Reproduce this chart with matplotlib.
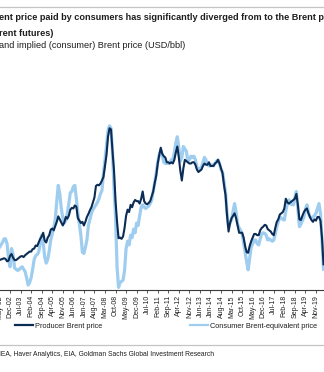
import matplotlib
matplotlib.use("Agg")
import matplotlib.pyplot as plt
from matplotlib import font_manager
from matplotlib.lines import Line2D
import numpy as np

# ---------------- data (monthly, Jan-2000 .. Apr-2020, USD/bbl) ----------------
producer_price = [
    25.5, 27.8, 27.5, 22.8, 27.4, 29.8, 28.7, 30.1, 33.0, 30.9, 32.6, 25.5,   # 2000
    25.6, 27.5, 24.5, 25.7, 28.4, 27.7, 24.5, 25.7, 25.6, 20.5, 18.9, 18.6,   # 2001
    19.4, 20.3, 23.7, 24.5, 23.5, 24.0, 24.5, 25.0, 24.5, 22.5, 23.0, 27.0,   # 2002
    28.5, 25.5, 23.5, 23.5, 24.5, 25.5, 26.5, 26.8, 26.0, 27.5, 28.5, 29.5,   # 2003
    30.5, 30.5, 32.5, 33.0, 35.5, 35.0, 38.0, 41.0, 43.0, 46.0, 39.5, 38.0,   # 2004
    42.0, 44.0, 48.5, 49.5, 48.0, 51.5, 55.0, 59.5, 57.0, 54.5, 52.0, 54.5,   # 2005
    59.0, 57.5, 60.0, 65.0, 66.5, 66.0, 68.5, 67.5, 58.0, 56.0, 54.0, 55.0,   # 2006
    52.0, 55.0, 59.0, 61.5, 64.5, 67.0, 71.0, 75.0, 84.5, 85.5, 85.0, 86.5,   # 2007
    89.0, 92.0, 101.0, 110.0, 125.0, 132.0, 131.0, 113.0, 97.0, 72.0, 55.0, 41.5,  # 2008
    42.0, 41.0, 43.0, 50.0, 60.0, 65.0, 63.0, 69.0, 67.0, 71.0, 73.0, 72.0,   # 2009
    72.0, 70.0, 74.0, 80.0, 72.0, 70.0, 69.5, 70.5, 72.0, 76.0, 80.0, 87.0,   # 2010
    93.0, 103.0, 110.0, 116.0, 111.0, 109.0, 108.0, 104.0, 104.0, 103.0, 104.0, 103.0,  # 2011
    106.0, 112.0, 117.0, 108.0, 97.0, 89.0, 99.0, 106.0, 105.0, 104.0, 103.0, 103.0,  # 2012
    104.0, 104.0, 102.0, 98.0, 96.0, 97.0, 98.0, 101.0, 103.0, 102.0, 102.0, 104.0,  # 2013
    101.0, 101.0, 101.0, 103.0, 104.0, 106.0, 103.0, 99.0, 95.0, 85.0, 77.0, 60.0,  # 2014
    47.0, 54.0, 58.0, 60.0, 62.0, 58.0, 52.0, 46.0, 46.0, 46.0, 42.0, 35.0,   # 2015
    30.0, 29.5, 35.0, 39.0, 42.0, 45.0, 45.0, 44.0, 44.0, 48.0, 50.0, 51.0,   # 2016
    52.5, 52.0, 49.0, 48.0, 47.0, 45.0, 44.0, 50.0, 55.0, 57.0, 61.0, 62.0,   # 2017
    63.0, 66.0, 74.0, 71.0, 70.0, 71.0, 72.0, 73.0, 74.0, 78.0, 69.0, 57.0,   # 2018
    56.5, 60.0, 63.0, 65.0, 66.0, 62.0, 59.0, 56.5, 55.0, 57.0, 56.0, 59.0,   # 2019
    59.0, 56.0, 42.0, 20.0,                                                   # 2020
]
consumer_price = [
    22.0, 25.0, 27.0, 24.0, 26.0, 30.0, 31.0, 32.0, 36.0, 34.0, 33.0, 26.0,   # 2000
    24.0, 26.0, 25.0, 26.0, 28.0, 29.0, 26.0, 26.0, 27.0, 23.0, 20.0, 21.0,   # 2001
    22.0, 24.0, 28.0, 32.0, 34.0, 36.0, 38.0, 41.0, 41.0, 37.0, 25.0, 18.0,   # 2002
    33.0, 28.0, 17.0, 16.0, 15.0, 15.5, 17.0, 18.0, 16.0, 14.0, 9.0, 3.0,     # 2003
    5.0, 9.0, 16.0, 24.0, 27.0, 28.0, 30.0, 37.0, 44.0, 38.0, 26.0, 21.0,     # 2004
    24.0, 31.0, 40.0, 45.0, 50.0, 57.0, 72.0, 85.0, 78.0, 66.0, 58.0, 54.0,   # 2005
    56.0, 62.0, 70.0, 79.0, 80.0, 84.0, 85.0, 74.0, 62.0, 53.0, 44.0, 30.0,   # 2006
    29.0, 34.0, 40.0, 52.0, 57.0, 62.0, 65.0, 67.0, 69.0, 71.0, 74.0, 78.0,   # 2007
    81.0, 95.0, 106.0, 118.0, 130.0, 134.0, 132.0, 112.0, 82.0, 60.0, 18.0, 1.0,  # 2008
    5.0, 6.0, 7.0, 15.0, 33.0, 39.0, 36.0, 44.0, 42.0, 49.0, 46.0, 54.0,      # 2009
    52.0, 60.0, 67.0, 69.0, 67.0, 66.0, 67.0, 68.0, 70.0, 73.0, 80.0, 87.0,   # 2010
    95.0, 104.0, 110.0, 114.0, 110.0, 104.0, 103.0, 103.0, 103.0, 104.0, 106.0, 106.0,  # 2011
    112.0, 120.0, 125.0, 116.0, 105.0, 108.0, 117.0, 115.0, 113.0, 105.0, 106.0, 109.0,  # 2012
    108.0, 109.0, 106.0, 100.0, 97.0, 99.0, 100.0, 104.0, 108.0, 106.0, 102.0, 101.0,  # 2013
    101.0, 102.0, 101.0, 103.0, 105.0, 106.0, 103.0, 98.0, 96.0, 88.0, 79.0, 62.0,  # 2014
    51.0, 54.0, 57.0, 64.0, 70.0, 63.0, 53.0, 50.0, 48.0, 45.0, 38.0, 30.0,   # 2015
    22.0, 15.5, 25.0, 34.0, 37.0, 40.0, 40.0, 37.0, 36.0, 41.0, 45.0, 46.0,   # 2016
    45.5, 44.0, 40.0, 41.0, 40.0, 39.0, 40.0, 45.0, 51.0, 55.0, 59.0, 58.0,   # 2017
    57.0, 56.5, 64.0, 70.0, 73.0, 70.0, 69.0, 69.0, 75.0, 80.0, 65.0, 51.0,   # 2018
    53.0, 56.0, 59.0, 65.0, 69.0, 63.0, 59.0, 58.0, 59.0, 60.0, 62.0, 66.0,   # 2019
    70.0, 62.0, 40.0, 16.0,                                                   # 2020
]
tick_labels = [
    "Jan-00", "Aug-00", "Mar-01", "Oct-01", "May-02", "Dec-02", "Jul-03",
    "Feb-04", "Sep-04", "Apr-05", "Nov-05", "Jun-06", "Jan-07", "Aug-07",
    "Mar-08", "Oct-08", "May-09", "Dec-09", "Jul-10", "Feb-11", "Sep-11",
    "Apr-12", "Nov-12", "Jun-13", "Jan-14", "Aug-14", "Mar-15", "Oct-15",
    "May-16", "Dec-16", "Jul-17", "Feb-18", "Sep-18", "Apr-19", "Nov-19",
]
tick_step_months = 7
series_names = ["Producer Brent price", "Consumer Brent-equivalent price"]

title_line1 = "ent price paid by consumers has significantly diverged from to the Brent price"
title_line2 = "rent futures)"
subtitle = "and implied (consumer) Brent price (USD/bbl)"
source = "IEA, Haver Analytics, EIA, Goldman Sachs Global Investment Research"

# ---------------- styling ----------------
names = {f.name for f in font_manager.fontManager.ttflist}
FONT = "Liberation Sans Narrow" if "Liberation Sans Narrow" in names else "Liberation Sans"
plt.rcParams["font.family"] = [FONT, "DejaVu Sans"]

DARK = "#0b2c55"
LIGHT = "#9fcdf0"
TXT = "#1e1e1e"

W, H = 324, 372
fig = plt.figure(figsize=(W / 100, H / 100), dpi=100)


def fx(px):
    return px / W


def fy(py):
    return 1 - py / H


# axes geometry (pixel-based, the reference is cropped on the left)
px_per_month = 1.507
x_left_px = -42.7
xmin, xmax = 0, 245
ymin, ymax = -1.2, 150
y_axis_px = 290.1
px_per_usd = 1.215
ax_w = (xmax - xmin) * px_per_month
ax_h = (ymax - ymin) * px_per_usd
ax = fig.add_axes([fx(x_left_px), (H - y_axis_px) / H, ax_w / W, ax_h / H])

x = np.arange(len(producer_price))
ax.plot(np.arange(len(consumer_price)), consumer_price, color=LIGHT, lw=2.3,
        solid_joinstyle="round", zorder=2)
ax.plot(x, producer_price, color=DARK, lw=1.5, solid_joinstyle="round", zorder=3)

ax.set_xlim(xmin, xmax)
ax.set_ylim(ymin, ymax)
for s in ["top", "right", "left"]:
    ax.spines[s].set_visible(False)
ax.spines["bottom"].set_color("#3a3a3a")
ax.spines["bottom"].set_linewidth(0.8)
ax.set_yticks([])
ax.set_xticks(np.arange(len(tick_labels)) * tick_step_months)
ax.set_xticklabels(tick_labels, rotation=90, fontsize=5.0, color=TXT)
ax.tick_params(axis="x", direction="out", length=2.5, width=0.6, color="#3a3a3a", pad=1.2)

# title block
fig.add_artist(Line2D([0, 1], [fy(7), fy(7)], transform=fig.transFigure,
                      color="#c4c4c4", lw=0.9))
fig.text(fx(-1), fy(17), title_line1, fontsize=6.6, weight="bold", color=TXT,
         ha="left", va="center")
fig.text(fx(-1), fy(33), title_line2, fontsize=6.6, weight="bold", color=TXT,
         ha="left", va="center")
fig.text(fx(-1), fy(45), subtitle, fontsize=6.6, color=TXT, ha="left", va="center")

# legend
h1 = Line2D([], [], color=DARK, lw=1.6)
h2 = Line2D([], [], color=LIGHT, lw=1.6)
for h, name, xpx in [(h1, series_names[0], 15), (h2, series_names[1], 190)]:
    fig.legend(handles=[h], labels=[name], loc="center left",
               bbox_to_anchor=(fx(xpx), fy(326)), frameon=False, fontsize=5.3,
               handlelength=2.5, handletextpad=0.15, borderpad=0, borderaxespad=0,
               labelcolor=TXT)

# source block
fig.add_artist(Line2D([0, 1], [fy(345), fy(345)], transform=fig.transFigure,
                      color="#c4c4c4", lw=0.9))
fig.text(fx(-1), fy(354), source, fontsize=4.9, color=TXT, ha="left", va="center")

fig.savefig("out.png", dpi=100)
